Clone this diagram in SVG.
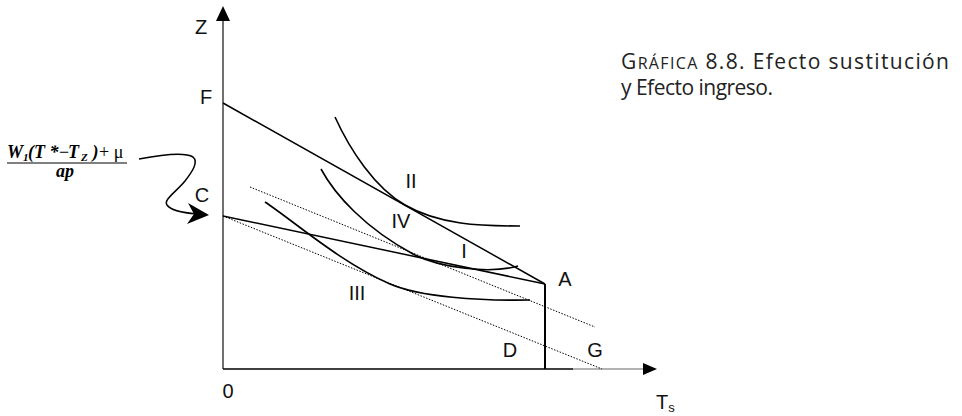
<svg xmlns="http://www.w3.org/2000/svg" width="962" height="416" viewBox="0 0 962 416">
<style>
.lbl{font-family:"Liberation Sans",Arial,sans-serif;font-size:20px;fill:#111;text-anchor:middle}
.ln{stroke:#000;stroke-width:1.5;fill:none}
.crv{stroke:#000;stroke-width:1.6;fill:none}
.dot{stroke:#000;stroke-width:1;stroke-dasharray:1.5 1.5;fill:none}
.frm{font-family:"Liberation Serif","Times New Roman",serif;font-size:18px;font-weight:bold;font-style:italic;fill:#000}
.ttl{font-family:"Open Sans",Lato,sans-serif;font-size:21px;fill:#222}
</style>
<rect width="962" height="416" fill="#fff"/>
<g id="axes">
<line x1="223" y1="369" x2="223" y2="20" stroke="#333" stroke-width="1.4"/>
<polygon points="223,6 216,21 230,21" fill="#000"/>
<line x1="223" y1="369" x2="573" y2="369" stroke="#000" stroke-width="1.5"/>
<line x1="573" y1="369" x2="645" y2="369" stroke="#999" stroke-width="1.5"/>
<polygon points="657,369 643,363 643,375" fill="#000"/>
</g>
<g id="connectors">
<line class="ln" x1="223" y1="103" x2="545" y2="284"/>
<line class="ln" x1="223" y1="216" x2="545" y2="284"/>
<line x1="545" y1="284" x2="545" y2="369" stroke="#000" stroke-width="2"/>
<line class="dot" x1="250" y1="187" x2="595" y2="327"/>
<line class="dot" x1="223" y1="216" x2="602" y2="369"/>
</g>
<g id="curve-II"><path class="crv" d="M335,117 C350,150 375,188 405,205 C440,225 480,226 520,226"/></g>
<g id="curve-IV"><path class="crv" d="M321,169 C335,195 365,228 413,254 C440,268 490,274 518,266"/></g>
<g id="curve-III"><path class="crv" d="M265,202 C295,222 340,262 390,284 C420,297 480,301 530,300"/></g>
<g id="labels">
<text class="lbl" x="201" y="34">Z</text>
<text class="lbl" x="206" y="104">F</text>
<text class="lbl" x="202" y="202">C</text>
<text class="lbl" x="411" y="188">II</text>
<text class="lbl" x="401" y="228">IV</text>
<text class="lbl" x="464" y="258">I</text>
<text class="lbl" x="357" y="300">III</text>
<text class="lbl" x="565" y="286">A</text>
<text class="lbl" x="510" y="357">D</text>
<text class="lbl" x="595" y="357">G</text>
<text class="lbl" x="228" y="398">0</text>
<text class="lbl" x="656" y="409" style="text-anchor:start">T<tspan font-size="13" dy="3">s</tspan></text>
</g>
<g id="formula">
<text class="frm" y="158"><tspan x="7">W</tspan><tspan x="23" y="161" font-size="11">1</tspan><tspan x="28" y="158">(T *</tspan><tspan x="59" font-style="normal" font-weight="normal">−</tspan><tspan x="68">T</tspan><tspan x="81" y="161" font-size="11">Z</tspan><tspan x="88" y="158"> )</tspan><tspan x="99" font-style="normal" font-weight="normal">+ μ</tspan></text>
<line x1="7" y1="163" x2="127" y2="163" stroke="#000" stroke-width="1.2"/>
<text class="frm" x="65" y="177" text-anchor="middle">ap</text>
<path d="M139,159 C160,155 185,152 193,157 C199,162 192,172 185,181 C176,192 163,200 167,205 C171,211 185,213 197,214" fill="none" stroke="#000" stroke-width="1.5"/>
<polygon points="209,215 188,203 194,214 187,224" fill="#000"/>
</g>
<g id="title">
<text class="ttl" x="621" y="69" textLength="328" lengthAdjust="spacing">G<tspan font-size="16">RÁFICA</tspan> 8.8. Efecto sustitución</text>
<text class="ttl" x="621" y="95" textLength="152" lengthAdjust="spacing">y Efecto ingreso.</text>
</g>
</svg>
